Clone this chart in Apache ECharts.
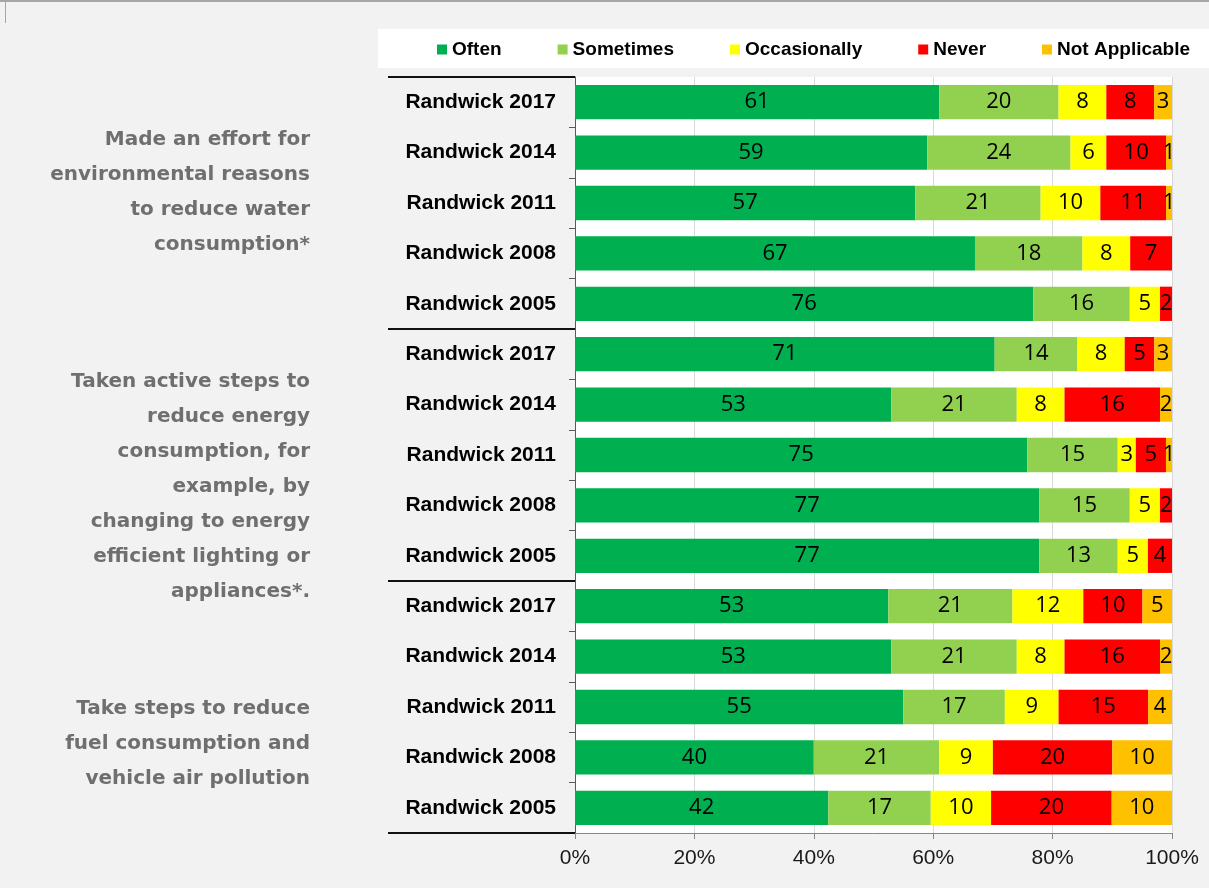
<!DOCTYPE html>
<html>
<head>
<meta charset="utf-8">
<script src="https://cdn.jsdelivr.net/npm/echarts@6/dist/echarts.min.js"></script>
<style>
  html, body { margin: 0; padding: 0; background: #f2f2f2; }
  #chart { width: 1209px; height: 888px; }
</style>
</head>
<body>
<div id="chart"></div>
<script>
// ---- data ----
const categories = [
  'Randwick 2017', 'Randwick 2014', 'Randwick 2011', 'Randwick 2008', 'Randwick 2005',
  'Randwick 2017', 'Randwick 2014', 'Randwick 2011', 'Randwick 2008', 'Randwick 2005',
  'Randwick 2017', 'Randwick 2014', 'Randwick 2011', 'Randwick 2008', 'Randwick 2005'
];
const groupLabels = [
  'Made an effort for\nenvironmental reasons\nto reduce water\nconsumption*',
  'Taken active steps to\nreduce energy\nconsumption, for\nexample, by\nchanging to energy\nefficient lighting or\nappliances*.',
  'Take steps to reduce\nfuel consumption and\nvehicle air pollution'
];
const seriesNames = ['Often', 'Sometimes', 'Occasionally', 'Never', 'Not Applicable'];
const often         = [61, 59, 57, 67, 76, 71, 53, 75, 77, 77, 53, 53, 55, 40, 42];
const sometimes     = [20, 24, 21, 18, 16, 14, 21, 15, 15, 13, 21, 21, 17, 21, 17];
const occasionally  = [ 8,  6, 10,  8,  5,  8,  8,  3,  5,  5, 12,  8,  9,  9, 10];
const never         = [ 8, 10, 11,  7,  2,  5, 16,  5,  2,  4, 10, 16, 15, 20, 20];
const notApplicable = [ 3,  1,  1,  0,  0,  3,  2,  1,  0,  0,  5,  2,  4, 10, 10];
const xTicks = [0, 20, 40, 60, 80, 100];

// ---- build ----
const raw = [often, sometimes, occasionally, never, notApplicable];
const colors = ['#00b050', '#92d050', '#ffff00', '#ff0000', '#ffc000'];
const rowSums = categories.map((_, i) => raw.reduce((s, arr) => s + arr[i], 0));

const series = raw.map((arr, k) => ({
  name: seriesNames[k],
  type: 'bar',
  stack: 'total',
  barCategoryGap: '32%',
  itemStyle: { color: colors[k] },
  label: {
    show: true,
    position: 'inside',
    fontFamily: 'Open Sans',
    fontSize: 22,
    color: '#000',
    formatter: p => (arr[p.dataIndex] > 0 ? String(arr[p.dataIndex]) : '')
  },
  emphasis: { disabled: true },
  data: arr.map((v, i) => (v / rowSums[i]) * 100)
}));

const chart = echarts.init(document.getElementById('chart'), null, { renderer: 'canvas' });

const groupCenters = [192, 487, 744];
const graphics = [
  { type: 'rect', shape: { x: 0, y: 0, width: 1209, height: 2 }, style: { fill: '#a6a6a6' }, z: -1 },
  { type: 'rect', shape: { x: 5, y: 0, width: 1, height: 23 }, style: { fill: '#a6a6a6' }, z: -1 },
  { type: 'rect', shape: { x: 378, y: 29, width: 831, height: 39 }, style: { fill: '#ffffff' }, z: -10 }
];
groupLabels.forEach((t, i) => {
  graphics.push({
    type: 'text',
    x: 310,
    y: groupCenters[i],
    style: {
      text: t,
      align: 'right',
      verticalAlign: 'middle',
      lineHeight: 35,
      fontFamily: 'DejaVu Sans',
      fontWeight: 'bold',
      fontSize: 20,
      fill: '#6f6f6f'
    }
  });
});

chart.setOption({
  backgroundColor: '#f2f2f2',
  animation: false,
  legend: {
    data: seriesNames,
    left: 432,
    top: 35,
    itemWidth: 10,
    itemHeight: 10,
    itemGap: 56,
    icon: 'rect',
    textStyle: { fontFamily: 'Liberation Sans', fontWeight: 'bold', fontSize: 19, color: '#000' }
  },
  grid: {
    left: 575, right: 37, top: 77, bottom: 55,
    show: true, backgroundColor: '#ffffff', borderWidth: 0
  },
  xAxis: {
    type: 'value',
    min: xTicks[0],
    max: xTicks[xTicks.length - 1],
    interval: 20,
    axisLine: { show: true, lineStyle: { color: '#868686', width: 1 } },
    axisTick: { show: true, length: 6, lineStyle: { color: '#868686' } },
    splitLine: { show: true, lineStyle: { color: '#d9d9d9', width: 1 } },
    axisLabel: {
      margin: 15,
      fontFamily: 'Liberation Sans',
      fontSize: 21,
      color: '#1a1a1a',
      formatter: '{value}%'
    }
  },
  yAxis: [
    {
      type: 'category',
      data: categories,
      inverse: true,
      axisLine: { show: true, lineStyle: { color: '#595959', width: 1 } },
      axisTick: { show: true, length: 6, lineStyle: { color: '#595959' } },
      axisLabel: {
        margin: 19,
        fontFamily: 'Liberation Sans',
        fontWeight: 'bold',
        fontSize: 21,
        color: '#000'
      }
    },
    {
      type: 'category',
      data: groupLabels.map((_, i) => 'g' + i),
      inverse: true,
      position: 'left',
      axisLine: { show: false },
      axisTick: { show: true, length: 187, lineStyle: { color: '#111', width: 2 } },
      axisLabel: { show: false },
      splitLine: { show: false }
    }
  ],
  graphic: graphics,
  series: series
});
</script>
</body>
</html>
